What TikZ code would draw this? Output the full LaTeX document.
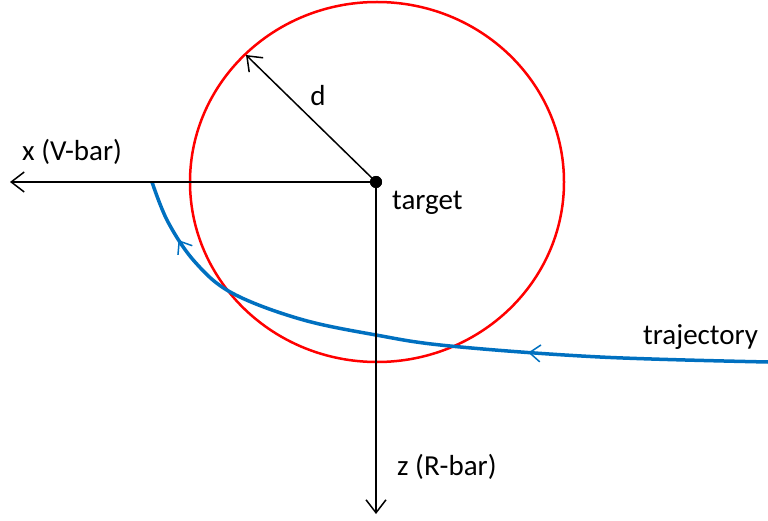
\documentclass[tikz,border=0pt]{standalone}
\usepackage{fontspec}
\setmainfont{Carlito}
\usetikzlibrary{arrows.meta,decorations.markings}
\definecolor{trajblue}{RGB}{0,112,192}
\definecolor{ringred}{RGB}{255,0,0}
\begin{document}
\begin{tikzpicture}[x=1pt,y=-1pt,
  axis/.style={draw=black,line width=1.5pt,-{Straight Barb[length=13pt,width=20pt,line width=1.5pt]}},
  lbl/.style={inner sep=0pt,font=\fontsize{29}{34}\selectfont},
  ring/.style={draw=ringred,line width=2.5pt},
  traj/.style={draw=trajblue,line width=3.5pt,
    postaction={decorate},
    decoration={markings,
      mark=at position 240pt with {\arrow{Straight Barb[length=11pt,width=17pt,line width=1.5pt]}},
      mark=at position -64pt with {\arrow{Straight Barb[length=11pt,width=17pt,line width=1.5pt]}}}}]
\useasboundingbox (0,0) rectangle (768,521);
% ring
\draw[ring] (377,182) ellipse [x radius=187, y radius=180];
% trajectory
\coordinate (ts) at (768,362);
\coordinate (te) at (152,182);
\draw[traj] plot[smooth,tension=0.6] coordinates {(ts) (600,357) (450,346) (376,335) (300,319) (232,293) (195,262) (168,222) (te)};
% target and axes
\coordinate (xend) at (10,182);
\coordinate (zend) at (376,514);
\coordinate (dend) at (246,55);
\node[circle,fill=black,inner sep=0pt,minimum size=12pt] (target) at (376,182) {};
\draw[axis] (target.center) -- (xend);
\draw[axis] (target.center) -- (zend);
\draw[axis] (target.center) -- (dend);
\node[circle,fill=black,inner sep=0pt,minimum size=12pt] at (target) {};
% labels
\node[lbl,anchor=west] (xl) at (22,152) {x (V-bar)};
\node[lbl,anchor=west] (tl) at (392,203) {target};
\node[lbl,anchor=west] (zl) at (397,467) {z (R-bar)};
\node[lbl,anchor=west] (trl) at (643,337) {trajectory};
\node[lbl] (dl) at (318,96) {d};
\end{tikzpicture}
\end{document}
